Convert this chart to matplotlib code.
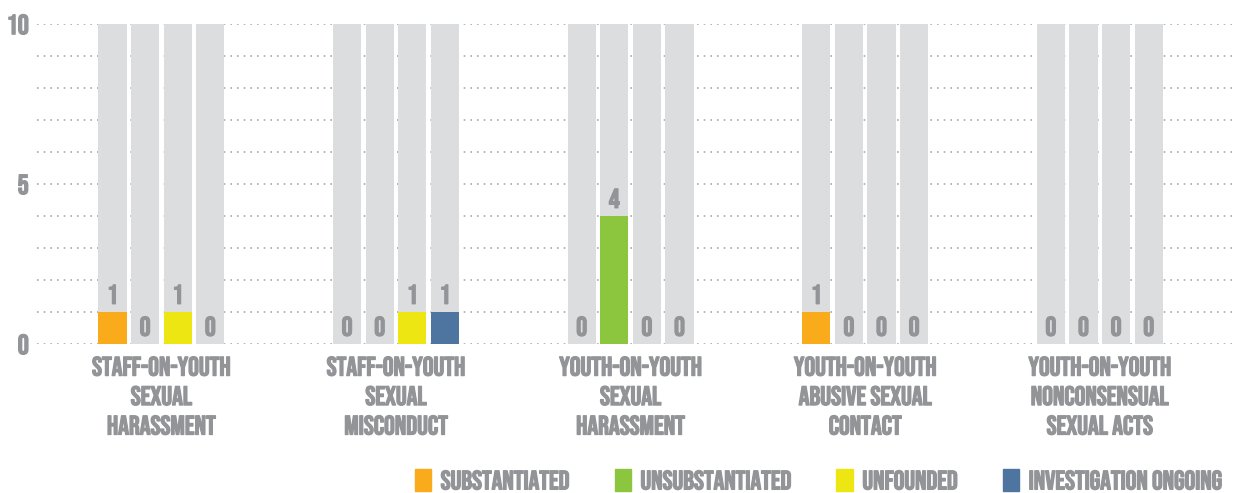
import matplotlib.pyplot as plt
import matplotlib.patches as mpatches
import matplotlib.patheffects as pe
import numpy as np

# data
categories = ["STAFF-ON-YOUTH\nSEXUAL\nHARASSMENT",
              "STAFF-ON-YOUTH\nSEXUAL\nMISCONDUCT",
              "YOUTH-ON-YOUTH\nSEXUAL\nHARASSMENT",
              "YOUTH-ON-YOUTH\nABUSIVE SEXUAL\nCONTACT",
              "YOUTH-ON-YOUTH\nNONCONSENSUAL\nSEXUAL ACTS"]
series = ["SUBSTANTIATED", "UNSUBSTANTIATED", "UNFOUNDED", "INVESTIGATION ONGOING"]
substantiated = [1, 0, 0, 1, 0]
unsubstantiated = [0, 0, 4, 0, 0]
unfounded = [1, 1, 0, 0, 0]
ongoing = [0, 1, 0, 0, 0]
y_max = 10

colors = ["#f9ab1b", "#8cc63e", "#ede613", "#4e74a0"]
bg_grey = "#dcdddf"
txt_grey = "#929497"
bold = [pe.withStroke(linewidth=0.9, foreground=txt_grey)]

plt.rcParams['font.family'] = ["Bebas Neue", "Fira Sans Extra Condensed", "DejaVu Sans"]

fig = plt.figure(figsize=(12.36, 4.93), dpi=100)
ax = fig.add_axes([0.030, 0.302, 0.968, 0.649])

x = np.arange(len(categories))
step = 0.139
width = 0.12
all_series = [substantiated, unsubstantiated, unfounded, ongoing]

for i, vals in enumerate(all_series):
    pos = x + (i - 1.5) * step
    ax.bar(pos, [y_max] * len(vals), width, color=bg_grey, zorder=2)
    ax.bar(pos, vals, width, color=colors[i], zorder=3)
    for p, v in zip(pos, vals):
        ax.annotate(str(v), (p, v), xytext=(0, 6), textcoords="offset points",
                    ha="center", va="bottom", fontsize=19.5, color=txt_grey,
                    path_effects=bold, zorder=4)

ax.set_xlim(-0.53, 4.57)
ax.set_ylim(0, y_max)
ax.set_yticks(np.arange(0, y_max + 1, 1))
ax.set_yticklabels([str(t) if t % 5 == 0 else "" for t in range(0, y_max + 1)])
ax.grid(axis="y", linestyle=(0, (1, 3)), color="#a7a9ac", linewidth=1.2, zorder=0)
ax.tick_params(axis="y", length=0, labelsize=20, labelcolor=txt_grey, pad=6)
ax.set_xticks(x)
ax.set_xticklabels(categories, fontsize=19.3, color=txt_grey, linespacing=1.55)
ax.tick_params(axis="x", length=0, pad=9)
for lbl in ax.get_xticklabels() + ax.get_yticklabels():
    lbl.set_path_effects(bold)
for s in ax.spines.values():
    s.set_visible(False)

handles = [mpatches.Patch(color=c, label=s) for c, s in zip(colors, series)]
leg = fig.legend(handles=handles, loc="center right", bbox_to_anchor=(1.008, 0.026), ncol=4,
                 frameon=False, fontsize=19.2, labelcolor=txt_grey, handlelength=0.62,
                 handleheight=0.88, handletextpad=0.35, columnspacing=1.68)
for t in leg.get_texts():
    t.set_path_effects(bold)

fig.savefig("out.png", dpi=100)
